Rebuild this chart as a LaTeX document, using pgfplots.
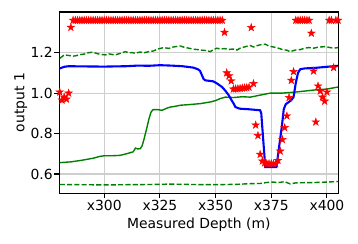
\documentclass[border=0pt]{standalone}
\usepackage{fontspec}
\setmainfont{DejaVu Sans}
\usepackage{pgfplots}
\pgfplotsset{compat=1.18}
\pgfdeclareplotmark{fstar}{%
 \pgfpathmoveto{\pgfpointpolar{90}{\pgfplotmarksize}}%
 \pgfpathlineto{\pgfpointpolar{126}{0.382\pgfplotmarksize}}%
 \pgfpathlineto{\pgfpointpolar{162}{\pgfplotmarksize}}%
 \pgfpathlineto{\pgfpointpolar{198}{0.382\pgfplotmarksize}}%
 \pgfpathlineto{\pgfpointpolar{234}{\pgfplotmarksize}}%
 \pgfpathlineto{\pgfpointpolar{270}{0.382\pgfplotmarksize}}%
 \pgfpathlineto{\pgfpointpolar{306}{\pgfplotmarksize}}%
 \pgfpathlineto{\pgfpointpolar{342}{0.382\pgfplotmarksize}}%
 \pgfpathlineto{\pgfpointpolar{18}{\pgfplotmarksize}}%
 \pgfpathlineto{\pgfpointpolar{54}{0.382\pgfplotmarksize}}%
 \pgfpathclose\pgfusepathqfillstroke}
\definecolor{mplgreen}{rgb}{0,0.5,0}
\definecolor{gridgray}{RGB}{206,206,206}
\begin{document}
\fontsize{13.9bp}{16bp}\selectfont
\begin{tikzpicture}
\useasboundingbox (-59.3bp,-50.7bp) rectangle (298.7bp,193.3bp);
\begin{axis}[
  at={(0,0)}, anchor=south west,
  scale only axis, width=279bp, height=181.3bp,
  xmin=279.8, xmax=405.1, ymin=0.5045, ymax=1.401,
  xtick={300,325,350,375,400},
  xticklabels={x300,x325,x350,x375,x400},
  ytick={0.6,0.8,1.0,1.2},
  yticklabels={0.6,0.8,1.0,1.2},
  xtick pos=left, ytick pos=left,
  /pgf/number format/assume math mode=true,
  tick align=outside, major tick length=4.8bp,
  tick style={black, line width=1.1bp},
  axis line style={line width=1.1bp, black},
  grid=major, grid style={gridgray, line width=1.1bp},
  xticklabel style={anchor=north, inner sep=0pt, yshift=-2bp},
  yticklabel style={anchor=east, inner sep=0pt, xshift=-1.6bp},
  xlabel={Measured Depth (m)},
  xlabel style={at={(rel axis cs:0.5,0)}, anchor=base, yshift=-35.2bp, inner sep=0pt},
  ylabel={output 1},
  ylabel style={at={(rel axis cs:0,0.5)}, anchor=base, yshift=35bp, inner sep=0pt},
  clip=true,
]
% lower dashed green
\addplot[mplgreen, line width=1.4bp, dash pattern=on 5.1bp off 2.2bp] coordinates {
(280,0.548)(290,0.547)(300,0.546)(310,0.547)(320,0.548)(330,0.550)(340,0.548)(350,0.547)
(360,0.549)(365,0.552)(370,0.553)(373,0.558)(376,0.560)(378,0.557)(381,0.562)(383.5,0.551)
(386,0.556)(390,0.557)(395,0.558)(400,0.560)(405,0.563)};
% upper dashed green
\addplot[mplgreen, line width=1.4bp, dash pattern=on 5.1bp off 2.2bp] coordinates {
(280,1.172)(281,1.180)(282,1.189)(284,1.186)(286,1.183)(287,1.184)(289,1.190)(291,1.193)
(293,1.200)(294.5,1.202)(296,1.198)(298,1.192)(300.5,1.189)(302,1.194)(304,1.190)(305,1.189)
(307,1.196)(309.5,1.205)(311,1.199)(312.5,1.200)(314,1.197)(316,1.203)(318,1.200)(320,1.205)
(322,1.208)(324,1.218)(326.7,1.225)(329,1.221)(331,1.228)(334.2,1.233)(336,1.226)(338,1.222)
(340,1.217)(342,1.215)(344,1.212)(346,1.210)(347.6,1.205)(349,1.215)(350.6,1.222)(352,1.218)
(354,1.220)(356,1.216)(358,1.218)(359.6,1.213)(361,1.222)(363.5,1.230)(365.6,1.235)(367,1.228)
(369,1.236)(370.5,1.240)(372.3,1.242)(374,1.232)(376,1.228)(378.3,1.222)(380,1.215)(382,1.212)
(383.5,1.205)(385.8,1.213)(388,1.215)(390,1.222)(391.8,1.225)(394,1.222)(396,1.227)(399.3,1.230)
(401,1.226)(403,1.222)(405,1.225)};
% solid green
\addplot[mplgreen, line width=1.4bp] coordinates {
(280,0.656)(285,0.660)(290,0.668)(295,0.678)(298,0.687)(300,0.690)(303,0.690)(307,0.692)
(310,0.700)(312.5,0.708)(313,0.710)(314,0.728)(315,0.724)(316.2,0.725)(317,0.740)(317.7,0.766)
(319.2,0.832)(320,0.870)(321,0.906)(321.9,0.918)(324,0.918)(326,0.915)(328,0.925)(329.7,0.931)
(332,0.935)(334.2,0.940)(338,0.943)(343.2,0.948)(347.6,0.956)(350,0.963)(352.1,0.973)(354.4,0.980)
(358,0.978)(362,0.982)(365.6,0.980)(370,0.990)(374.6,1.000)(380,1.000)(385.8,1.005)(390,1.010)
(395,1.016)(400,1.020)(405,1.030)};
% blue
\addplot[blue, line width=2.1bp] coordinates {
(280,1.122)(282,1.130)(284,1.133)(290,1.132)(300,1.131)(310,1.133)(315,1.136)(320,1.135)
(325,1.138)(330,1.136)(335,1.133)(340,1.126)(342,1.118)(343,1.110)(344,1.085)(344.6,1.070)
(345.4,1.063)(349,1.058)(351,1.045)(352.9,1.030)(354.5,1.010)(355.9,0.989)(357,0.968)(358.1,0.948)
(358.9,0.931)(360.8,0.923)(365,0.920)(370,0.915)(370.5,0.900)(372.3,0.634)(377.3,0.634)(379.8,0.840)
(380.6,0.920)(381.5,0.945)(384,0.965)(385,0.980)(386,1.050)(387,1.100)(388,1.118)(390,1.122)
(395,1.125)(400,1.130)(405,1.135)};
% red stars
\addplot[only marks, mark=fstar, mark size=4bp, red, mark options={fill=red, line width=0.4bp}] coordinates {
(280,1.005)(281,0.965)(282,0.980)(283,0.970)(284,1.000)(285,1.325)
(286,1.36)(287,1.36)(288,1.36)(289,1.36)(290,1.36)(291,1.36)(292,1.36)(293,1.36)(294,1.36)(295,1.36)
(296,1.36)(297,1.36)(298,1.36)(299,1.36)(300,1.36)(301,1.36)(302,1.36)(303,1.36)(304,1.36)(305,1.36)
(306,1.36)(307,1.36)(308,1.36)(309,1.36)(310,1.36)(311,1.36)(312,1.36)(313,1.36)(314,1.36)(315,1.36)
(316,1.36)(317,1.36)(318,1.36)(319,1.36)(320,1.36)(321,1.36)(322,1.36)(323,1.36)(324,1.36)(325,1.36)
(326,1.36)(327,1.36)(328,1.36)(329,1.36)(330,1.36)(331,1.36)(332,1.36)(333,1.36)(334,1.36)(335,1.36)
(336,1.36)(337,1.36)(338,1.36)(339,1.36)(340,1.36)(341,1.36)(342,1.36)(343,1.36)(344,1.36)(345,1.36)
(346,1.36)(347,1.36)(348,1.36)(349,1.36)(350,1.36)(351,1.36)(352,1.36)(353,1.36)
(354,1.300)(355,1.100)(356,1.085)(357,1.060)(358,1.020)(359,1.021)(360,1.022)(361,1.023)(362,1.025)
(363,1.026)(364,1.027)(365,1.029)(366,1.324)(367,1.047)(368,0.842)(369,0.790)(370,0.697)(371,0.664)
(372,0.655)(373,0.651)(374,0.651)(375,0.651)(376,0.651)(377,0.651)(378,0.667)(379,0.713)(380,0.770)
(381,0.829)(382,0.887)(383,0.978)(384,1.063)(385,1.106)
(386,1.36)(387,1.36)(388,1.36)(389,1.36)(390,1.36)(391,1.36)(392,1.36)
(393,1.296)(394,1.109)(395,0.857)(396,1.035)(397,1.010)(398,0.980)(399,0.960)(400,1.005)
(401,1.36)(402,1.36)(403,1.126)(404,1.36)(405,1.36)};
\end{axis}
\end{tikzpicture}
\end{document}
